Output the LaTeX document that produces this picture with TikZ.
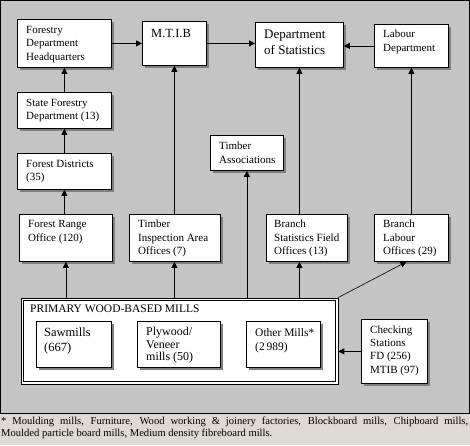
\documentclass[tikz,border=0pt]{standalone}
\usepackage{fontspec}
\setmainfont{Liberation Serif}
\usetikzlibrary{arrows.meta,shadows}
\definecolor{panelgray}{RGB}{196,196,196}
\definecolor{shadowgray}{RGB}{128,128,128}
\definecolor{footbg}{RGB}{222,217,213}
\newcommand\bx[5]{\node[bx, minimum width=#4pt, minimum height=#5pt, anchor=north west] (#1) at (#2,#3) {};}
\newcommand\tx[4]{\node[tx, anchor=north west] (#1) at (#2,#3) {#4};}
\tikzset{
  bx/.style={draw=black, fill=white, line width=0.8pt, inner sep=0pt,
    drop shadow={shadow xshift=2.5pt, shadow yshift=-2.5pt, fill=shadowgray, opacity=1}},
  millbox/.style={draw=black, fill=white, line width=0.8pt,
    inner sep=0pt, minimum width=317pt, minimum height=86pt, anchor=north west},
  tx/.style={inner sep=0pt, align=left, font=\fontsize{11}{13.5}\selectfont},
  big/.style={font=\fontsize{12.5}{15}\selectfont},
  arr/.style={line width=0.8pt, -{Triangle[width=6pt,length=6pt]}}
}
\begin{document}
\begin{tikzpicture}[x=1pt,y=-1pt]
\useasboundingbox (0,0) rectangle (470,445);
\fill[panelgray] (0,0) rectangle (470,413);
\fill[footbg] (0,413) rectangle (470,445);
\draw[line width=1pt] (0.5,0.5) rectangle (469.5,413);

% boxes
\bx{hq}{17}{19}{94}{48}
\bx{mtib}{142}{21}{64}{44}
\bx{stats}{255}{22}{88}{45}
\bx{lab}{374}{24}{74}{43}
\bx{sfd}{17}{92}{94}{36}
\bx{fd}{17}{153}{94}{36}
\bx{ta}{210}{135}{73}{35}
\bx{fr}{19}{214}{93}{47}
\bx{ti}{129}{214}{91}{47}
\bx{bs}{266}{214}{81}{47}
\bx{bl}{374}{214}{74}{47}
\node[millbox] (mills) at (20.5,297.5) {};
\draw[line width=0.8pt] ([shift={(2.6,2.6)}]mills.north west) rectangle ([shift={(-2.6,-2.6)}]mills.south east);
\bx{saw}{36}{321}{75}{46}
\bx{ply}{137}{321}{83}{46}
\bx{oth}{246}{321}{74}{46}
\bx{chk}{361}{319}{66}{64}

% texts
\tx{hqt}{26}{26}{Forestry\\Department\\Headquarters}
\node[tx, big, anchor=north west] (mtibt) at (151,29) {M.T.I.B};
\node[tx, font=\fontsize{13}{15.5}\selectfont, anchor=north west] (statst) at (264,30) {Department\\of Statistics};
\tx{labt}{383}{30}{Labour\\Department}
\tx{sfdt}{26}{99}{State Forestry\\Department (13)}
\tx{fdt}{26}{160}{Forest Districts\\(35)}
\tx{tat}{219}{142}{Timber\\Associations}
\node[tx, font=\fontsize{11}{14.5}\selectfont, anchor=north west] (frt) at (28,220) {Forest Range\\Office (120)};
\tx{tit}{138}{220}{Timber\\Inspection Area\\Offices (7)}
\tx{bst}{274}{220}{Branch\\Statistics Field\\Offices (13)}
\tx{blt}{383}{220}{Branch\\Labour\\Offices (29)}
\node[tx, font=\fontsize{11.5}{14}\selectfont, anchor=north west] (millst) at (30,305) {PRIMARY WOOD-BASED MILLS};
\node[tx, font=\fontsize{12.5}{15}\selectfont, anchor=north west] (sawt) at (44,328) {Sawmills\\(667)};
\node[tx, font=\fontsize{12}{12.5}\selectfont, anchor=north west] (plyt) at (146,327) {Plywood/\\Veneer\\mills (50)};
\node[tx, font=\fontsize{11.5}{14}\selectfont, anchor=north west] (otht) at (255,328) {Other Mills*\\(2\,989)};
\node[tx, font=\fontsize{11}{12.6}\selectfont, anchor=north west] (chkt) at (370,326) {Checking\\Stations\\FD (256)\\[1.5pt]MTIB (97)};

% connectors
\draw[arr] (hq.east) -- (mtib.west |- hq.east);
\draw[arr] (mtib.east) -- (stats.west |- mtib.east);
\draw[arr] (lab.west) -- (stats.east |- lab.west);
\draw[arr] (sfd.north) -- (hq.south);
\draw[arr] (fd.north) -- (sfd.south);
\draw[arr] (fd.south |- fr.north) -- (fd.south);
\draw[arr] (fr.south |- mills.north) -- (fr.south);
\draw[arr] (mtib.south |- mills.north) -- (mtib.south |- ti.south);
\draw[arr] (mtib.south |- ti.north) -- (mtib.south);
\draw[arr] (ta.south |- mills.north) -- (ta.south);
\draw[arr] (stats.south |- mills.north) -- (stats.south |- bs.south);
\draw[arr] (stats.south |- bs.north) -- (stats.south);
\draw[arr] (lab.south |- bl.north) -- (lab.south);
\coordinate (bltip) at ([xshift=-5pt]bl.south);
\draw[line width=0.6pt, -{Triangle[width=6pt,length=6pt]}] (mills.north east) -- (bltip);
\draw[arr] (chk.west) -- (mills.east |- chk.west);

% footnote
\node[inner sep=0pt, anchor=north west] (foot) at (1,416.5)
  {\parbox{467pt}{\fontsize{10.6}{12}\selectfont * Moulding mills, Furniture, Wood working \& joinery factories, Blockboard mills, Chipboard mills,\linebreak Moulded particle board mills, Medium density fibreboard mills.}};
\end{tikzpicture}
\end{document}
